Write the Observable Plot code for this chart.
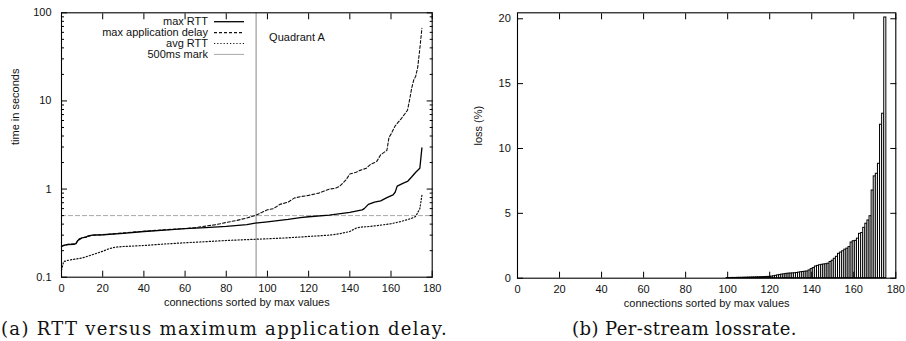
<!DOCTYPE html>
<html>
<head>
<meta charset="utf-8">
<script src="https://cdn.jsdelivr.net/npm/d3@7"></script>
<script src="https://cdn.jsdelivr.net/npm/@observablehq/plot@0.6"></script>
<style>
  body { margin: 0; background: white; }
  #wrap { display: flex; width: 906px; }
  .panel { position: relative; width: 453px; height: 341px; }
  .caption { position: absolute; left: 0; width: 453px; top: 316px; text-align: center; white-space: nowrap;
             font-family: "DejaVu Serif", "Liberation Serif", serif; font-size: 18px; line-height: 26px; color: #111; }
  .legend-row { position: absolute; font-family: "Liberation Sans", Arial, sans-serif; font-size: 11px;
                line-height: 12px; color: #111; text-align: right; white-space: nowrap; }
  svg.leg { position: absolute; left: 0; top: 0; overflow: visible; }
</style>
</head>
<body>
<div id="wrap">
  <div class="panel" id="pa"></div>
  <div class="panel" id="pb"></div>
</div>
<script>
// ---------- Data ----------
const xTicks = [0, 20, 40, 60, 80, 100, 120, 140, 160, 180];
const yLogMajor = [0.1, 1, 10, 100];
const yLogMinor = [0.2,0.3,0.4,0.5,0.6,0.7,0.8,0.9,2,3,4,5,6,7,8,9,20,30,40,50,60,70,80,90];
const yLossTicks = [0, 5, 10, 15, 20];

const seriesNames = ["max RTT", "max application delay", "avg RTT", "500ms mark"];

const maxRttX = [0,1,3,6,7,8,9,10,12,13,15,20,30,40,50,60,70,80,90,94,100,110,116,120,130,140,146,147,149,152,155,158,161,162,163,166,168,170,172,174,175];
const maxRttY = [0.222,0.23,0.235,0.236,0.24,0.262,0.27,0.28,0.285,0.295,0.3,0.303,0.315,0.33,0.342,0.355,0.365,0.377,0.395,0.41,0.425,0.453,0.475,0.485,0.505,0.543,0.58,0.6,0.67,0.71,0.735,0.8,0.86,0.92,1.08,1.17,1.22,1.37,1.55,1.72,2.93];

const maxDelayX = [0,3,7,8,9,10,13,15,20,30,40,50,60,65,70,75,80,85,90,94,97,100,103,106,110,113,116,120,125,130,133,135,138,140,143,145,148,150,153,155,158,159,160,162,165,168,169,170,171,172,173,174,175];
const maxDelayY = [0.225,0.235,0.24,0.265,0.275,0.28,0.29,0.3,0.303,0.318,0.332,0.345,0.357,0.365,0.38,0.395,0.418,0.44,0.47,0.5,0.54,0.583,0.6,0.67,0.71,0.79,0.82,0.848,0.9,1.0,1.02,1.07,1.26,1.48,1.55,1.63,1.72,1.9,2.05,2.45,2.75,3.84,4.2,5.2,6.3,7.84,10.2,13.8,17.2,19.1,24.3,39.4,66.5];

const avgRttX = [0,1,3,5,10,15,20,23,26,30,40,50,60,70,80,90,100,110,120,130,135,140,143,145,150,155,160,165,170,172,174,175];
const avgRttY = [0.12,0.15,0.155,0.158,0.165,0.18,0.197,0.21,0.219,0.223,0.229,0.238,0.246,0.253,0.261,0.267,0.273,0.28,0.29,0.3,0.311,0.33,0.36,0.37,0.377,0.39,0.404,0.43,0.465,0.49,0.6,0.85];

const markLevel = [0.5];
const quadrantX = [94.5];
const quadrantLabel = ["Quadrant A"];

const lossConn = [100,101,102,103,104,105,106,107,108,109,110,111,112,113,114,115,116,117,118,119,120,121,122,123,124,125,126,127,128,129,130,131,132,133,134,135,136,137,138,139,140,141,142,143,144,145,146,147,148,149,150,151,152,153,154,155,156,157,158,159,160,161,162,163,164,165,166,167,168,169,170,171,172,173,174,175];
const lossPct = [0.01,0.01,0.02,0.02,0.02,0.03,0.03,0.03,0.04,0.04,0.05,0.05,0.06,0.06,0.07,0.07,0.08,0.08,0.09,0.1,0.1,0.12,0.15,0.18,0.22,0.25,0.28,0.3,0.33,0.35,0.36,0.37,0.38,0.4,0.43,0.46,0.48,0.5,0.52,0.6,0.7,0.78,0.9,0.95,1.0,1.03,1.06,1.08,1.12,1.25,1.35,1.5,1.65,1.88,1.98,2.08,2.2,2.28,2.4,2.75,2.85,2.88,3.05,3.42,3.48,3.88,4.2,4.45,4.78,6.76,7.85,8.05,8.82,11.83,12.68,20.1];

const xLabel = "connections sorted by max values";
const yLabelA = "time in seconds";
const yLabelB = "loss (%)";
const captionA = "(a) RTT versus maximum application delay.";
const captionB = "(b) Per-stream lossrate.";

// ---------- Helpers ----------
const toRows = (xs, ys) => xs.map((x, i) => ({x, y: ys[i]}));
const txt = "#111";
const font = {fontFamily: "'Liberation Sans', Arial, sans-serif", fontSize: "11px", color: txt, background: "white", overflow: "visible"};
const blank = () => "";

// inward gnuplot-style ticks on all four sides: outward axis ticks shifted back inside the frame
function inwardTicks(xT, yMaj, yMin) {
  const m = [
    Plot.axisX({anchor: "bottom", ticks: xT, tickSize: 6, dy: -6, tickFormat: blank, label: null, stroke: "#000"}),
    Plot.axisX({anchor: "top", ticks: xT, tickSize: 6, dy: 6, tickFormat: blank, label: null, stroke: "#000"}),
    Plot.axisY({anchor: "left", ticks: yMaj, tickSize: 6, dx: 6, tickFormat: blank, label: null, stroke: "#000"}),
    Plot.axisY({anchor: "right", ticks: yMaj, tickSize: 6, dx: -6, tickFormat: blank, label: null, stroke: "#000"})
  ];
  if (yMin) {
    m.push(Plot.axisY({anchor: "left", ticks: yMin, tickSize: 3, dx: 3, tickFormat: blank, label: null, stroke: "#000"}));
    m.push(Plot.axisY({anchor: "right", ticks: yMin, tickSize: 3, dx: -3, tickFormat: blank, label: null, stroke: "#000"}));
  }
  return m;
}

// ---------- Panel (a) ----------
const pa = Plot.plot({
  width: 453, height: 315,
  marginLeft: 61, marginRight: 21.3, marginTop: 12.3, marginBottom: 38.3,
  style: font,
  x: {domain: [0, 180]},
  y: {type: "log", domain: [0.1, 100]},
  marks: [
    Plot.ruleX(quadrantX, {stroke: "#9a9a9a", strokeWidth: 1.2}),
    Plot.ruleY(markLevel, {stroke: "#a8a8a8", strokeWidth: 1, strokeDasharray: "5,2"}),
    Plot.line(toRows(avgRttX, avgRttY), {x: "x", y: "y", stroke: "#111", strokeWidth: 1.2, strokeDasharray: "1.2,2"}),
    Plot.line(toRows(maxDelayX, maxDelayY), {x: "x", y: "y", stroke: "#111", strokeWidth: 1.1, strokeDasharray: "3,2"}),
    Plot.line(toRows(maxRttX, maxRttY), {x: "x", y: "y", stroke: "#000", strokeWidth: 1.3}),
    Plot.text(quadrantLabel, {x: quadrantX[0], frameAnchor: "top", dx: 13, dy: 20, textAnchor: "start", fill: txt}),
    ...inwardTicks(xTicks, yLogMajor, yLogMinor),
    Plot.frame({stroke: "#000", strokeWidth: 1.1}),
    Plot.axisX({ticks: xTicks, tickSize: 0, tickPadding: 7, label: null, fill: txt}),
    Plot.axisY({ticks: yLogMajor, tickSize: 0, tickPadding: 10, tickFormat: d => String(d), label: null, fill: txt}),
    Plot.text([xLabel], {frameAnchor: "bottom", dy: 28.5, fill: txt}),
    Plot.text([yLabelA], {frameAnchor: "left", dx: -46, rotate: -90, fill: txt})
  ]
});
document.getElementById("pa").appendChild(pa);

// legend + caption for (a)
(function () {
  const host = document.getElementById("pa");
  const rowsY = [21.7, 32.6, 43.5, 54.4];
  const styles = [
    {stroke: "#000", w: 1.3, dash: null},
    {stroke: "#111", w: 1.1, dash: "3,2"},
    {stroke: "#111", w: 1.2, dash: "1.2,2"},
    {stroke: "#a8a8a8", w: 1, dash: null}
  ];
  const ns = "http://www.w3.org/2000/svg";
  const svg = document.createElementNS(ns, "svg");
  svg.setAttribute("class", "leg");
  svg.setAttribute("width", 453); svg.setAttribute("height", 80);
  seriesNames.forEach((name, i) => {
    const d = document.createElement("div");
    d.className = "legend-row";
    d.style.right = (453 - 208) + "px";
    d.style.top = (rowsY[i] - 6.5) + "px";
    d.textContent = name;
    host.appendChild(d);
    const l = document.createElementNS(ns, "line");
    l.setAttribute("x1", 214); l.setAttribute("x2", 244);
    l.setAttribute("y1", rowsY[i]); l.setAttribute("y2", rowsY[i]);
    l.setAttribute("stroke", styles[i].stroke);
    l.setAttribute("stroke-width", styles[i].w);
    if (styles[i].dash) l.setAttribute("stroke-dasharray", styles[i].dash);
    svg.appendChild(l);
  });
  host.appendChild(svg);
  const c = document.createElement("div");
  c.className = "caption"; c.textContent = captionA;
  c.style.letterSpacing = "1.3px";
  c.style.left = "-2px";
  host.appendChild(c);
})();

// ---------- Panel (b) ----------
const lossRows = lossConn.map((c, i) => ({c, loss: lossPct[i]}));
const pb = Plot.plot({
  width: 453, height: 315,
  marginLeft: 64, marginRight: 10.7, marginTop: 12.3, marginBottom: 37.3,
  style: font,
  x: {domain: [0, 180]},
  y: {domain: [0, 20.46]},
  marks: [
    Plot.rectY(lossRows, {x1: d => d.c - 0.5, x2: d => d.c + 0.5, y: "loss", fill: "white", stroke: "#000", strokeWidth: 1}),
    ...inwardTicks(xTicks, yLossTicks, null),
    Plot.frame({stroke: "#000", strokeWidth: 1.1}),
    Plot.axisX({ticks: xTicks, tickSize: 0, tickPadding: 7, label: null, fill: txt}),
    Plot.axisY({ticks: yLossTicks, tickSize: 0, tickPadding: 6.7, label: null, fill: txt}),
    Plot.text([xLabel], {frameAnchor: "bottom", dy: 28.5, fill: txt}),
    Plot.text([yLabelB], {frameAnchor: "left", dx: -39, rotate: -90, fill: txt})
  ]
});
document.getElementById("pb").appendChild(pb);
(function () {
  const c = document.createElement("div");
  c.className = "caption"; c.textContent = captionB;
  c.style.letterSpacing = "0.4px";
  c.style.left = "5px";
  document.getElementById("pb").appendChild(c);
})();
</script>
</body>
</html>
